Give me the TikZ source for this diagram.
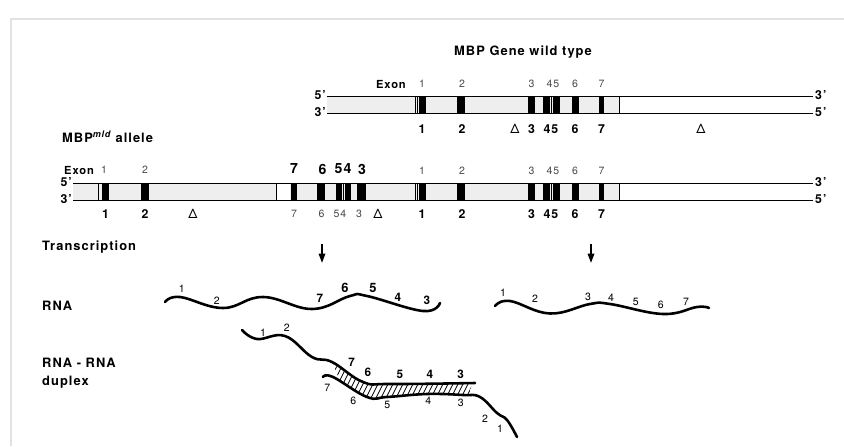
\documentclass[tikz,border=0pt]{standalone}
\usepackage{fontspec}
\setmainfont{TeX Gyre Heros}[LetterSpace=8]
\usetikzlibrary{positioning, arrows.meta, calc}
\definecolor{cFrame}{HTML}{E2E2E2}
\definecolor{cShade}{HTML}{EEEEEE}
\definecolor{cLight}{HTML}{4A4A4A}

\begin{document}
\begin{tikzpicture}[
  x=0.03cm, y=-0.03cm,
  heading/.style={font=\bfseries\fontsize{11}{13}\selectfont,
    anchor=west, inner sep=0pt, align=left},
  exonword/.style={font=\bfseries\fontsize{9.5}{11}\selectfont, inner sep=0pt},
  numthin/.style={font=\fontsize{9}{10}\selectfont, text=cLight, inner sep=0pt},
  numbold/.style={font=\bfseries\fontsize{10.5}{12}\selectfont, inner sep=0pt},
  numbig/.style={font=\bfseries\fontsize{12}{14}\selectfont, inner sep=0pt},
  deltamark/.style={font=\fontsize{11}{12}\selectfont, inner sep=0pt},
  endlabel/.style={font=\bfseries\fontsize{10.5}{12}\selectfont, inner sep=0pt},
  rnanum/.style={font=\fontsize{9}{10}\selectfont, inner sep=0pt},
  rnabold/.style={font=\bfseries\fontsize{10}{11}\selectfont, inner sep=0pt},
  rnabig/.style={font=\bfseries\fontsize{11}{12}\selectfont, inner sep=0pt},
  dnaline/.style={line width=0.6pt},
  exonbar/.style={fill=black},
  sepline/.style={line width=0.4pt},
  rna/.style={line width=2.2pt, line cap=round},
  hatch/.style={line width=0.6pt},
  txarrow/.style={line width=1.5pt, -{Triangle[length=8pt,width=5.5pt]}},
]
\useasboundingbox (0,0) rectangle (844,446);
\draw[cFrame, line width=1.2pt] (11,446) -- (11,19) -- (844,19);

% wild type gene
\node[heading, anchor=center] (wtTitle) at (523,52) {MBP Gene wild type};
\fill[cShade] (327,96) rectangle (619,113);
\foreach \a/\b in {419/426, 457/465, 528/535, 543/549.5, 553/559.5, 572/579, 599/604}
  \fill[exonbar] (\a,96) rectangle (\b,113);
\foreach \x in {415.5, 417.5, 551.5, 619}
  \draw[sepline] (\x,96) -- (\x,113);
\draw[dnaline] (327,96) -- (813,96);
\draw[dnaline] (327,113) -- (813,113);
\node[endlabel, anchor=east] (wtFiveL) at (326,95) {5'};
\node[endlabel, anchor=east] (wtThreeL) at (326,112) {3'};
\node[endlabel, anchor=west] (wtThreeR) at (815,95) {3'};
\node[endlabel, anchor=west] (wtFiveR) at (815,112) {5'};
\node[exonword, anchor=east] (wtExon) at (406,84) {Exon};
\foreach \x/\t [count=\i] in {422/1, 462/2, 531.5/3, 553/45, 575/6, 601.5/7}
  \node[numthin] (wtTop\i) at (\x,84) {\t};
\foreach \x/\t [count=\i] in {422/1, 462/2, 531.5/3, 551/45, 575/6, 601.5/7}
  \node[numbold] (wtBot\i) at (\x,129) {\t};
\node[deltamark] (wtDelA) at (515,129) {Δ};
\node[deltamark] (wtDelB) at (701,129) {Δ};

% mld allele
\node[heading] (mldTitle) at (62,137) {MBP\textsuperscript{\itshape mld} allele};
\fill[cShade] (73,183) rectangle (276,200);
\fill[cShade] (290,183) rectangle (619,200);
\foreach \a/\b in {101.5/108.5, 141/149, 290.5/296.5, 316.5/325, 335.5/341.5,
    345/350.5, 357/366, 419/426, 457/465, 528/535, 543/549.5, 553/559.5,
    572/579, 599/604}
  \fill[exonbar] (\a,183) rectangle (\b,200);
\foreach \x in {98, 276, 343, 415.5, 417.5, 551.5, 619}
  \draw[sepline] (\x,183) -- (\x,200);
\draw[dnaline] (73,183) -- (813,183);
\draw[dnaline] (73,200) -- (813,200);
\node[endlabel, anchor=east] (mldFiveL) at (72,182) {5'};
\node[endlabel, anchor=east] (mldThreeL) at (72,199) {3'};
\node[endlabel, anchor=west] (mldThreeR) at (815,182) {3'};
\node[endlabel, anchor=west] (mldFiveR) at (815,199) {5'};
\node[exonword, anchor=west] (mldExon) at (64,170) {Exon};
\foreach \x/\t [count=\i] in {104/1, 145/2}
  \node[numthin] (mldTopA\i) at (\x,170) {\t};
\foreach \x/\t [count=\i] in {294/7, 322.5/6, 343/54, 362/3}
  \node[numbig] (mldTopB\i) at (\x,169) {\t};
\foreach \x/\t [count=\i] in {422/1, 462/2, 531.5/3, 553/45, 575/6, 601.5/7}
  \node[numthin] (mldTopC\i) at (\x,171) {\t};
\foreach \x/\t [count=\i] in {105.5/1, 145/2}
  \node[numbold] (mldBotA\i) at (\x,214) {\t};
\foreach \x/\t [count=\i] in {294/7, 321.5/6, 340/54, 359/3}
  \node[numthin] (mldBotB\i) at (\x,214) {\t};
\foreach \x/\t [count=\i] in {422/1, 462/2, 531.5/3, 551/45, 575/6, 601.5/7}
  \node[numbold] (mldBotC\i) at (\x,214) {\t};
\node[deltamark] (mldDelA) at (193,214) {Δ};
\node[deltamark] (mldDelB) at (378,214) {Δ};

% transcription
\node[heading] (txLabel) at (42,247) {Transcription};
\coordinate (mldTxTop) at (322,244);
\coordinate (mldTxEnd) at (322,263);
\coordinate (wtTxTop) at (591,244);
\coordinate (wtTxEnd) at (591,263);
\draw[txarrow] (mldTxTop) -- (mldTxEnd);
\draw[txarrow] (wtTxTop) -- (wtTxEnd);

% RNA
\node[heading] (rnaLabel) at (42,306) {RNA};
\draw[rna] plot[smooth, tension=0.7] coordinates {(165,302) (180,297) (223,308)
  (263,297) (312,309) (350,296) (367,296) (423,311) (440,303)};
\foreach \x/\y/\t [count=\i] in {181.7/289/1, 216.7/301/2}
  \node[rnanum] (mldRna\i) at (\x,\y) {\t};
\foreach \x/\y/\t [count=\i] in {320/298/7, 398/297/4, 427/300/3}
  \node[rnabold] (mldRnaB\i) at (\x,\y) {\t};
\node[rnabig] (mldRna6) at (345,288) {6};
\node[rnabig] (mldRna5) at (373,288) {5};
\draw[rna] plot[smooth, tension=0.7] coordinates {(495,306) (510,301) (550,313.5)
  (590,304) (610,304) (663,314) (697,307) (709,308)};
\foreach \x/\y/\t [count=\i] in {503/293/1, 535/299/2, 588/296.7/3, 611/298/4,
    635.7/301.7/5, 660.7/305/6, 686/301.7/7}
  \node[rnanum] (wtRna\i) at (\x,\y) {\t};

% RNA-RNA duplex
\node[heading, font=\bfseries\fontsize{11}{15}\selectfont] (duplexLabel)
  at (42,373) {RNA - RNA\\duplex};
\begin{scope}
  \clip plot[smooth] coordinates {(333,364) (363,382) (390,384) (472,383)}
    -- (469,396) -- plot[smooth] coordinates {(463,395) (427,394) (387,397)
    (367,397) (340,381)} -- cycle;
  \foreach \x in {300,305,...,480}
    \draw[hatch] (\x,400) -- ++(20,-40);
\end{scope}
\draw[rna] plot[smooth, tension=0.7] coordinates {(242,330) (257,339) (285,336)
  (312,357) (332,362) (363,382) (390,384) (475,383)};
\draw[rna] plot[smooth, tension=0.7] coordinates {(323,377) (333,377) (367,397)
  (387,397) (427,394) (463,395) (480,397) (497,413) (507,420) (517,437)};
\foreach \x/\y/\t [count=\i] in {263/332.7/1, 286.7/328/2}
  \node[rnanum] (dupTop\i) at (\x,\y) {\t};
\foreach \x/\y/\t [count=\i] in {351.7/362/7, 368/372/6, 400/374/5, 430/374/4,
    460.7/374/3}
  \node[rnabold] (dupTopB\i) at (\x,\y) {\t};
\foreach \x/\y/\t [count=\i] in {327.3/388.3/7, 353.3/401/6, 387.3/405/5,
    428.3/400.7/4, 460.7/403.3/3, 485/418.3/2, 500/428.3/1}
  \node[rnanum] (dupBot\i) at (\x,\y) {\t};
\end{tikzpicture}
\end{document}
